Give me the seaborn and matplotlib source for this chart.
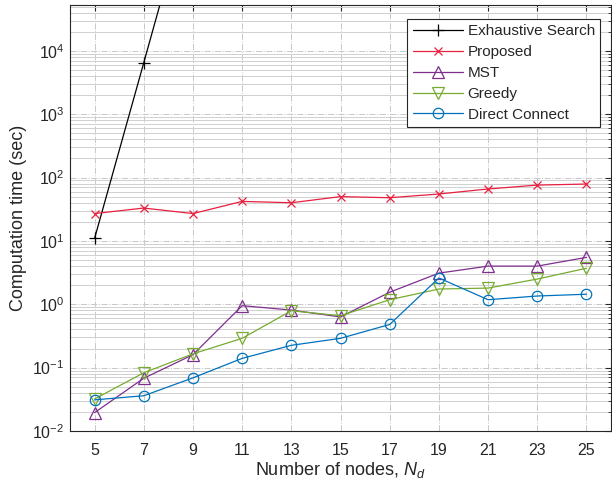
import matplotlib.pyplot as plt
import matplotlib.ticker as mticker
import seaborn as sns
import pandas as pd

nodes = [5, 7, 9, 11, 13, 15, 17, 19, 21, 23, 25]
exhaustive_nodes = [5, 7, 9]
exhaustive = [11, 6500, 4.0e6]
proposed = [27, 33, 27, 42, 40, 50, 48, 55, 66, 76, 79]
mst = [0.0195, 0.068, 0.16, 0.95, 0.81, 0.63, 1.55, 3.1, 4.0, 4.0, 5.5]
greedy = [0.032, 0.083, 0.165, 0.29, 0.79, 0.66, 1.18, 1.74, 1.8, 2.5, 3.7]
direct = [0.031, 0.036, 0.069, 0.14, 0.225, 0.29, 0.48, 2.6, 1.18, 1.35, 1.44]
yticks = [1e-2, 1e-1, 1e0, 1e1, 1e2, 1e3, 1e4]

sns.set_style("white")
plt.rcParams['font.family'] = ['Liberation Sans', 'DejaVu Sans']
plt.rcParams['mathtext.fontset'] = 'custom'
plt.rcParams['mathtext.rm'] = 'Liberation Sans'
plt.rcParams['mathtext.it'] = 'Liberation Sans:italic'

fig = plt.figure(figsize=(6.12, 4.92), dpi=100)
ax = fig.add_axes([0.1144, 0.124, 0.884, 0.866])

series = [
    ("Exhaustive Search", exhaustive_nodes, exhaustive, "black", "+", 9),
    ("Proposed", nodes, proposed, "#E8203F", "x", 6),
    ("MST", nodes, mst, "#7E2F8E", "^", 8),
    ("Greedy", nodes, greedy, "#77AC30", "v", 8),
    ("Direct Connect", nodes, direct, "#0072BD", "o", 7.5),
]
for name, xs, ys, color, marker, ms in series:
    df = pd.DataFrame({"x": xs, "y": ys})
    sns.lineplot(data=df, x="x", y="y", ax=ax, color=color, marker=marker,
                 markersize=ms, markerfacecolor="none", markeredgecolor=color,
                 markeredgewidth=0.9, linewidth=0.9, label=name)

ax.set_yscale("log")
ax.set_xlim(4, 26)
ax.set_ylim(1e-2, 5.3e4)
ax.set_xticks(nodes)
ax.yaxis.set_major_locator(mticker.FixedLocator(yticks))
ax.yaxis.set_major_formatter(mticker.LogFormatterSciNotation())
ax.yaxis.set_minor_locator(mticker.LogLocator(base=10, subs=range(2, 10), numticks=12))
ax.yaxis.set_minor_formatter(mticker.NullFormatter())

ax.grid(True, which="major", axis="both", color="#c8c8c8", linestyle="-.", linewidth=0.7)
ax.grid(True, which="minor", axis="y", color="#d0d0d0", linestyle="-", linewidth=0.7)
ax.set_axisbelow(True)

ax.tick_params(which="both", direction="in", top=True, right=True, labelsize=11.5)
ax.tick_params(axis="x", which="major", length=4, pad=9)
ax.tick_params(axis="y", which="major", length=4, pad=4)
ax.tick_params(which="minor", length=2)
for s in ax.spines.values():
    s.set_color("#262626")
    s.set_linewidth(0.8)

ax.set_xlabel("Number of nodes, $N_d$", fontsize=13, labelpad=1)
ax.set_ylabel("Computation time (sec)", fontsize=13, labelpad=4)

leg = ax.legend(loc="upper right", fontsize=11, frameon=True, fancybox=False,
                edgecolor="#262626", framealpha=1, handlelength=3.3,
                borderpad=0.35, labelspacing=0.45, handletextpad=0.3,
                bbox_to_anchor=(0.994, 0.985))
leg.get_frame().set_linewidth(0.8)

fig.savefig("out.png", dpi=100)
